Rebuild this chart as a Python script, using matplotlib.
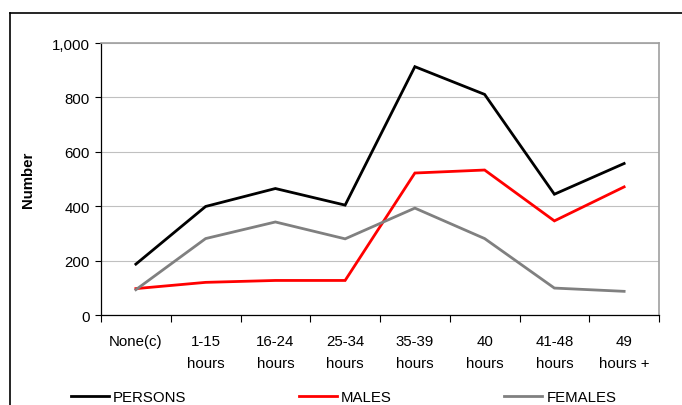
import matplotlib.pyplot as plt
from matplotlib.ticker import FuncFormatter, FixedLocator
from matplotlib.lines import Line2D

plt.rcParams['font.family'] = ['Liberation Sans', 'DejaVu Sans']

categories = ['None(c)', '1-15\nhours', '16-24\nhours', '25-34\nhours',
              '35-39\nhours', '40\nhours', '41-48\nhours', '49\nhours +']
persons = [187, 399, 465, 404, 913, 811, 444, 557]
males = [97, 120, 127, 127, 522, 533, 346, 471]
females = [93, 281, 342, 280, 393, 281, 99, 87]

series = [('PERSONS', persons, '#000000'),
          ('MALES', males, '#ff0000'),
          ('FEMALES', females, '#808080')]

fig = plt.figure(figsize=(6.82, 4.06), dpi=100)
ax = fig.add_axes([101 / 682, 1 - 316 / 406, 558 / 682, 272 / 406])

x = list(range(len(categories)))
for name, vals, col in series:
    ax.plot(x, vals, color=col, lw=2.0, label=name, solid_joinstyle='miter')

ax.set_xlim(-0.5, len(categories) - 0.5)
ax.set_ylim(0, 1000)
ax.set_yticks(range(0, 1001, 200))
ax.yaxis.set_major_formatter(FuncFormatter(lambda v, p: f'{int(v):,}'))
ax.grid(axis='y', color='#c0c0c0', lw=0.8)
ax.set_axisbelow(True)

# category labels centred, tick marks between categories
ax.xaxis.set_major_locator(FixedLocator([i - 0.5 for i in range(len(categories) + 1)]))
ax.xaxis.set_minor_locator(FixedLocator(x))
ax.set_xticklabels([''] * (len(categories) + 1))
ax.set_xticklabels(categories, minor=True)
ax.tick_params(axis='x', which='major', direction='out', length=5, width=0.8)
ax.tick_params(axis='x', which='minor', length=0, pad=14, labelsize=10.8)
ax.tick_params(axis='y', direction='out', length=4, width=0.8, labelsize=10.8, pad=4)
for lab in ax.get_xticklabels(minor=True):
    lab.set_linespacing(1.65)

for s in ['left', 'bottom']:
    ax.spines[s].set_color('black')
    ax.spines[s].set_linewidth(0.9)
for s in ['top', 'right']:
    ax.spines[s].set_color('#a0a0a0')
    ax.spines[s].set_linewidth(1.2)

ax.set_ylabel('Number', fontsize=10.8, fontweight='bold', labelpad=12)

# outer frame (left and top edges only visible)
fig.add_artist(Line2D([10 / 682, 10 / 682], [0, 1 - 14 / 406], color='black', lw=1.2))
fig.add_artist(Line2D([10 / 682, 1], [1 - 14 / 406, 1 - 14 / 406], color='black', lw=1.2))

fig.legend(loc='center left', bbox_to_anchor=(71 / 682, 1 - 398 / 406), ncol=3,
           frameon=False, fontsize=10.8, handlelength=2.5, handletextpad=0.3,
           columnspacing=7.5, borderaxespad=0, borderpad=0)

fig.savefig('out.png', dpi=100)
